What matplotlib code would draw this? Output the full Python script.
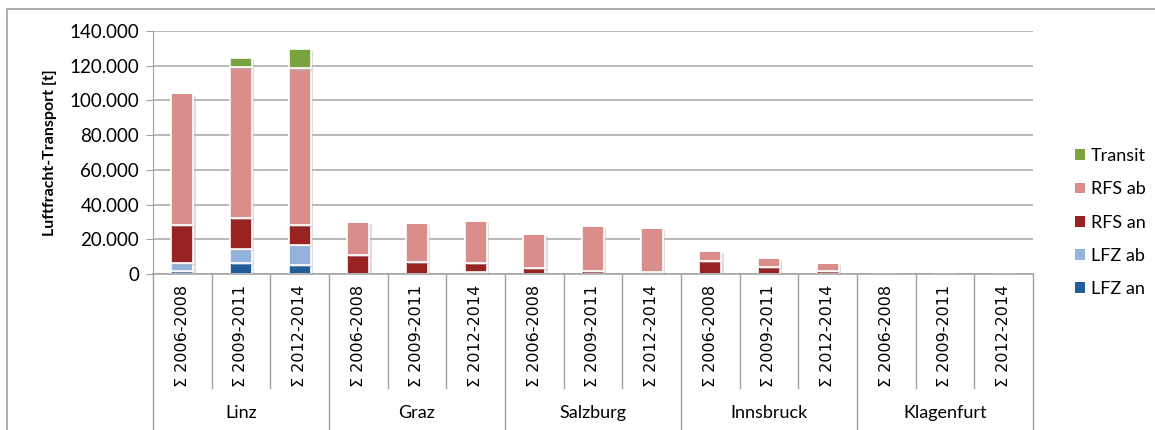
import numpy as np
import matplotlib
matplotlib.use("Agg")
import matplotlib.pyplot as plt
import matplotlib.patheffects as pe
from matplotlib.lines import Line2D
from matplotlib.patches import Patch

# airports and periods
airports = ["Linz", "Graz", "Salzburg", "Innsbruck", "Klagenfurt"]
periods = ["\u03a3 2006-2008", "\u03a3 2009-2011", "\u03a3 2012-2014"]

# stacked values in tonnes, order: Linz x3, Graz x3, Salzburg x3, Innsbruck x3, Klagenfurt x3
lfz_an = [2000, 6500, 5400, 0, 0, 0, 0, 0, 0, 0, 0, 0, 0, 0, 0]
lfz_ab = [4500, 7700, 11500, 0, 0, 1300, 0, 0, 0, 0, 0, 0, 0, 0, 0]
rfs_an = [21500, 18000, 11500, 10800, 6800, 4800, 3300, 1700, 1200, 7500, 4200, 1900, 0, 0, 0]
rfs_ab = [76000, 87000, 90000, 19200, 22400, 24400, 19600, 25900, 25500, 5900, 4800, 4200, 700, 500, 0]
transit = [0, 5300, 11000, 0, 0, 0, 0, 0, 0, 0, 0, 0, 0, 0, 0]

series = [("LFZ an", lfz_an, "#215d9a"),
          ("LFZ ab", lfz_ab, "#93b2dc"),
          ("RFS an", rfs_an, "#992222"),
          ("RFS ab", rfs_ab, "#d98e8b"),
          ("Transit", transit, "#7aa23e")]

fig = plt.figure(figsize=(11.55, 4.3), dpi=100)
ax = fig.add_axes([153/1155, 1-274/430, 880/1155, 243/430])

x = np.arange(len(lfz_an))
bottom = np.zeros(len(x))
shadow = [pe.SimplePatchShadow(offset=(1.5, -1.5), shadow_rgbFace="#bbbbbb", alpha=0.5), pe.Normal()]
for name, vals, col in series:
    vals = np.array(vals, dtype=float)
    ax.bar(x, vals, bottom=bottom, width=0.38, color=col, edgecolor="white",
           linewidth=1.2, zorder=3, path_effects=shadow)
    bottom += vals

ax.set_xlim(-0.5, len(x)-0.5)
ax.set_ylim(0, 140000)
ax.set_yticks(np.arange(0, 140001, 20000))
ax.set_yticklabels([f"{v:,.0f}".replace(",", ".") for v in np.arange(0, 140001, 20000)],
                   family="Lato", fontsize=13.5)
ax.yaxis.grid(True, color="#a6a6a6", linewidth=1.1, zorder=0)
ax.tick_params(axis="y", length=5, color="#a0a0a0", pad=5)
ax.set_xticks([])
for s in ["top", "right", "bottom"]:
    ax.spines[s].set_visible(False)
ax.spines["left"].set_color("#a0a0a0")
ax.set_ylabel("Luftfracht-Transport [t]", family="Lato", fontweight="bold", fontsize=11.5, labelpad=9)

# category axis with group lines
tr = ax.get_xaxis_transform()
ax.plot([-0.5, len(x)-0.5], [0, 0], color="#a0a0a0", lw=1.1, transform=tr, clip_on=False, zorder=4)
for k in range(len(x)+1):
    if k % 3 == 0:
        ybot = -0.642
    else:
        ybot = -0.469
    ax.plot([k-0.5, k-0.5], [0, ybot], color="#a0a0a0", lw=1, transform=tr, clip_on=False)
for i in x:
    ax.text(i, -0.255, periods[i % 3], rotation=90, ha="center", va="center",
            fontsize=11.5, transform=tr, family="DejaVu Sans")
for g, name in enumerate(airports):
    ax.text(3*g+1, -0.572, name, ha="center", va="center", fontsize=13,
            family="Lato", transform=tr)

# legend, reversed order like the reference
handles = [Patch(facecolor=c, edgecolor="none") for _, _, c in series][::-1]
labels = [n for n, _, _ in series][::-1]
fig.legend(handles, labels, loc="upper left", bbox_to_anchor=(1068/1155, 1-141/430),
           frameon=False, prop={"family": "Lato", "size": 13}, handlelength=0.55,
           handleheight=0.55, handletextpad=0.3, labelspacing=0.95, borderaxespad=0)

# chart frame
fig.add_artist(Line2D([7/1155, 7/1155, 1], [0, 1-9/430, 1-9/430], color="#a0a0a0", lw=1.2))

fig.savefig("out.png", dpi=100)
